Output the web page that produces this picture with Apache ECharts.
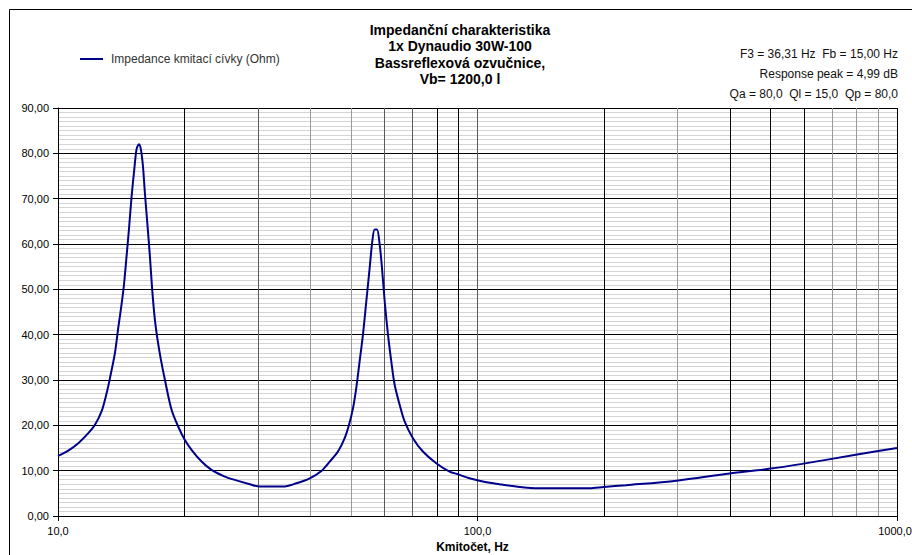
<!DOCTYPE html>
<html><head><meta charset="utf-8">
<script src="https://cdn.jsdelivr.net/npm/echarts@6/dist/echarts.min.js"></script>
<style>html,body{margin:0;padding:0;background:#fff}#c{width:912px;height:555px}</style>
</head><body><div id="c"></div>
<script>
// ---- data ----
const freqHz = [10.0, 10.58, 11.18, 11.81, 12.25, 12.7, 13.06, 13.3, 13.67, 13.92, 14.18, 14.36, 14.57, 14.76, 14.98, 15.2, 15.39, 15.59, 15.76, 15.94, 16.11, 16.35, 16.56, 16.77, 17.02, 17.27, 17.59, 17.98, 18.65, 19.34, 20.05, 20.81, 21.99, 23.22, 24.98, 26.39, 28.65, 30.27, 34.4, 37.01, 39.81, 42.45, 44.43, 46.5, 48.24, 49.4, 50.5, 51.4, 52.36, 53.33, 54.32, 55.33, 56.14, 56.86, 57.6, 58.45, 59.2, 60.08, 61.18, 62.3, 63.46, 65.22, 67.03, 70.15, 74.1, 79.72, 85.77, 89.8, 95.7, 102.97, 112.8, 121, 140, 185, 200, 226, 298, 399, 495, 594, 797, 1000];
const impedanceOhm = [13.26, 14.44, 16.06, 18.27, 20.11, 23.06, 27.11, 30.42, 36.0, 41.5, 46.8, 50.9, 57.31, 63.2, 70.57, 76.46, 80.88, 81.99, 80.88, 77.2, 71.3, 63.94, 57.31, 49.94, 43.31, 38.9, 34.48, 30.06, 23.43, 19.74, 16.8, 14.59, 12.01, 10.17, 8.69, 7.96, 7.0, 6.48, 6.48, 7.22, 8.32, 9.94, 12.0, 14.22, 17.16, 20.11, 23.79, 28.21, 34.1, 40.0, 47.37, 54.73, 60.63, 63.2, 63.2, 59.9, 54.73, 47.37, 40.0, 34.1, 28.95, 24.53, 20.85, 17.16, 14.22, 11.64, 9.8, 9.21, 8.32, 7.59, 7.0, 6.6, 6.1, 6.1, 6.4, 6.8, 7.8, 9.4, 10.4, 11.5, 13.5, 15.0];
const xTickLabels = [10, 100, 1000];
const gridBlackHz = [20, 80, 90, 200, 400, 500, 600, 1000];
const gridDarkHz = [30, 60, 70, 100];
const gridGrayHz = [40, 50, 300, 700, 800, 900];
const seriesName = 'Impedance kmitací cívky (Ohm)';
const titleLines = ['Impedanční charakteristika', '1x Dynaudio 30W-100', 'Bassreflexová ozvučnice,', 'Vb= 1200,0 l'];
const infoLines = ['F3 = 36,31 Hz  Fb = 15,00 Hz', 'Response peak = 4,99 dB', 'Qa = 80,0  Ql = 15,0  Qp = 80,0'];
const xAxisName = 'Kmitočet, Hz';

const FONT = '"Liberation Sans", Arial, sans-serif';
const curve = freqHz.map((f, i) => [f, impedanceOhm[i]]);
function gridSeries(list, color) {
  return {
    type: 'line', data: [], silent: true, z: 1, animation: false,
    markLine: {
      silent: true, symbol: ['none', 'none'], animation: false,
      label: {show: false},
      lineStyle: {color: color, width: 1, type: 'solid'},
      emphasis: {disabled: true},
      data: list.map(v => ({xAxis: v}))
    }
  };
}
const xMax = xTickLabels[xTickLabels.length - 1];

const chart = echarts.init(document.getElementById('c'), null, {renderer: 'svg'});
chart.setOption({
  animation: false,
  backgroundColor: '#fff',
  textStyle: {fontFamily: FONT},
  grid: {left: 58, top: 108, right: 15, bottom: 39, containLabel: false, outerBoundsMode: 'none'},
  legend: {
    left: 80, top: 53, padding: 0, itemWidth: 23, itemHeight: 2, itemGap: 10,
    data: [{name: seriesName, icon: 'rect'}],
    textStyle: {fontSize: 12, color: '#333', fontFamily: FONT, padding: [0, 0, 0, 3]}
  },
  xAxis: {
    type: 'log', logBase: 10, min: 10, max: 1000,
    name: xAxisName, nameLocation: 'middle', nameGap: 25,
    nameTextStyle: {fontWeight: 'bold', fontSize: 12, color: '#000', fontFamily: FONT, padding: [0, 10, 0, 0]},
    axisLine: {show: true, lineStyle: {color: '#000', width: 1}},
    axisTick: {show: true, length: 5, lineStyle: {color: '#000'}},
    axisLabel: {
      margin: 9, fontSize: 11, color: '#000', fontFamily: FONT,
      formatter: v => {
        const r = Math.round(v);
        if (xTickLabels.indexOf(r) < 0) return '';
        const s = Number(v).toFixed(1).replace('.', ',');
        return r === xMax ? '{e|' + s + '}' : s;
      },
      rich: {e: {fontSize: 11, color: '#000', fontFamily: FONT, padding: [0, 4, 0, 0]}}
    },
    splitLine: {show: false}
  },
  yAxis: {
    type: 'value', min: 0, max: 90, interval: 10,
    axisLine: {show: true, lineStyle: {color: '#000', width: 1}},
    axisTick: {show: true, length: 5, lineStyle: {color: '#000'}},
    axisLabel: {margin: 9, fontSize: 11, color: '#000', fontFamily: FONT,
      formatter: v => Number(v).toFixed(2).replace('.', ',')},
    splitLine: {show: true, lineStyle: {color: '#000', width: 1}},
    minorTick: {show: false, splitNumber: 10},
    minorSplitLine: {show: true, lineStyle: {color: '#d4d4d4', width: 1}}
  },
  graphic: [
    {type: 'line', shape: {x1: 9.5, y1: 9.5, x2: 912, y2: 9.5}, style: {stroke: '#000', lineWidth: 1}, silent: true},
    {type: 'line', shape: {x1: 9.5, y1: 9.5, x2: 9.5, y2: 555}, style: {stroke: '#000', lineWidth: 1}, silent: true},
    ...titleLines.map((t, i) => ({
      type: 'text', x: 460, y: 30 + i * 16.3,
      style: {text: t, font: 'bold 14px ' + FONT, fill: '#000', textAlign: 'center', textVerticalAlign: 'middle'}, silent: true
    })),
    ...infoLines.map((t, i) => ({
      type: 'text', x: 898, y: 54 + i * 20,
      style: {text: t, font: '12px ' + FONT, fill: '#111', textAlign: 'right', textVerticalAlign: 'middle'}, silent: true
    }))
  ],
  series: [
    gridSeries(gridGrayHz, '#9a9a9a'),
    gridSeries(gridDarkHz, '#5a5a5a'),
    gridSeries(gridBlackHz, '#000'),
    {
      name: seriesName, type: 'line', data: curve, z: 5,
      symbol: 'none', showSymbol: false, smooth: 0.3,
      lineStyle: {color: '#00008b', width: 2}, itemStyle: {color: '#00008b'},
      silent: true
    }
  ]
});
</script></body></html>
